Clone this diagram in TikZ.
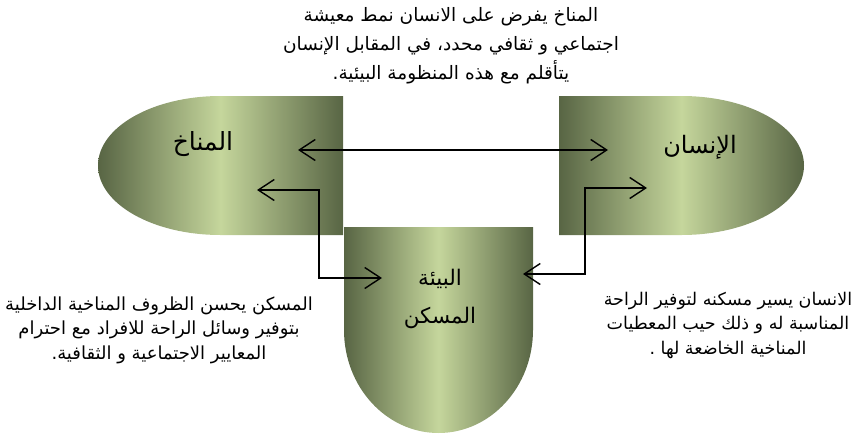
\documentclass[tikz,border=0pt]{standalone}
\usepackage{fontspec}
\usetikzlibrary{arrows.meta,positioning}
\newfontfamily\arabicfont[Script=Arabic]{DejaVu Sans}
\TeXXeTstate=1
\definecolor{olivedark}{RGB}{88,101,68}
\definecolor{olivelight}{RGB}{197,214,156}

\begin{document}
\begin{tikzpicture}[x=1pt, y=-1pt,
    blob/.style={left color=olivedark, right color=olivedark, middle color=olivelight},
    arr/.style={{Straight Barb[length=16pt,width=21pt]}-{Straight Barb[length=16pt,width=21pt]}, line width=1.4pt, black},
    label/.style={font=\arabicfont\fontsize{24}{38}\selectfont, align=center},
    note/.style={font=\arabicfont\fontsize{18}{24.5}\selectfont, align=center}]
  \useasboundingbox (0,0) rectangle (865,434);

  \shade[blob] (343,96) -- (220.5,96) arc[start angle=90, end angle=270, x radius=122.5pt, y radius=69.5pt] -- (343,235) -- cycle;
  \shade[blob] (559,96) -- (681.5,96) arc[start angle=90, end angle=-90, x radius=122.5pt, y radius=69.5pt] -- (559,235) -- cycle;
  \shade[blob] (344,227) -- (533,227) -- (533,330) arc[start angle=0, end angle=-180, x radius=94.5pt, y radius=103pt] -- cycle;

  \node[label, font=\arabicfont\fontsize{25}{38}\selectfont] (climate) at (203,144) {\beginR المناخ\endR};
  \node[label] (human) at (700,147) {\beginR الإنسان\endR};
  \node[label, font=\arabicfont\fontsize{21.5}{38}\selectfont] (home) at (440,299) {\beginR البيئة\endR\\ \beginR المسكن\endR};

  \node[note, font=\arabicfont\fontsize{18.5}{29}\selectfont] (top) at (451,46)
    {\beginR المناخ يفرض على الانسان نمط معيشة\endR\\
     \beginR اجتماعي و ثقافي محدد، في المقابل الإنسان\endR\\
     \beginR يتأقلم مع هذه المنظومة البيئية.\endR};
  \node[note] (left) at (159,330)
    {\beginR المسكن يحسن الظروف المناخية الداخلية\endR\\
     \beginR بتوفير وسائل الراحة للافراد مع احترام\endR\\
     \beginR المعايير الاجتماعية و الثقافية.\endR};
  \node[note, font=\arabicfont\fontsize{17.5}{24.5}\selectfont] (right) at (728,325)
    {\beginR الانسان يسير مسكنه لتوفير الراحة\endR\\
     \beginR المناسبة له و ذلك حيب المعطيات\endR\\
     \beginR المناخية الخاضعة لها .\endR};

  \coordinate (climA) at (298,150);
  \coordinate (humA) at (608,150);
  \coordinate (climB) at (257,190);
  \coordinate (homeL) at (382,278);
  \coordinate (humB) at (647,188);
  \coordinate (homeR) at (523,274);

  \draw[arr] (climA) -- (humA);
  \draw[arr] (climB) -- ++(62,0) |- (homeL);
  \draw[arr] (humB) -- ++(-62,0) |- (homeR);
\end{tikzpicture}
\end{document}
